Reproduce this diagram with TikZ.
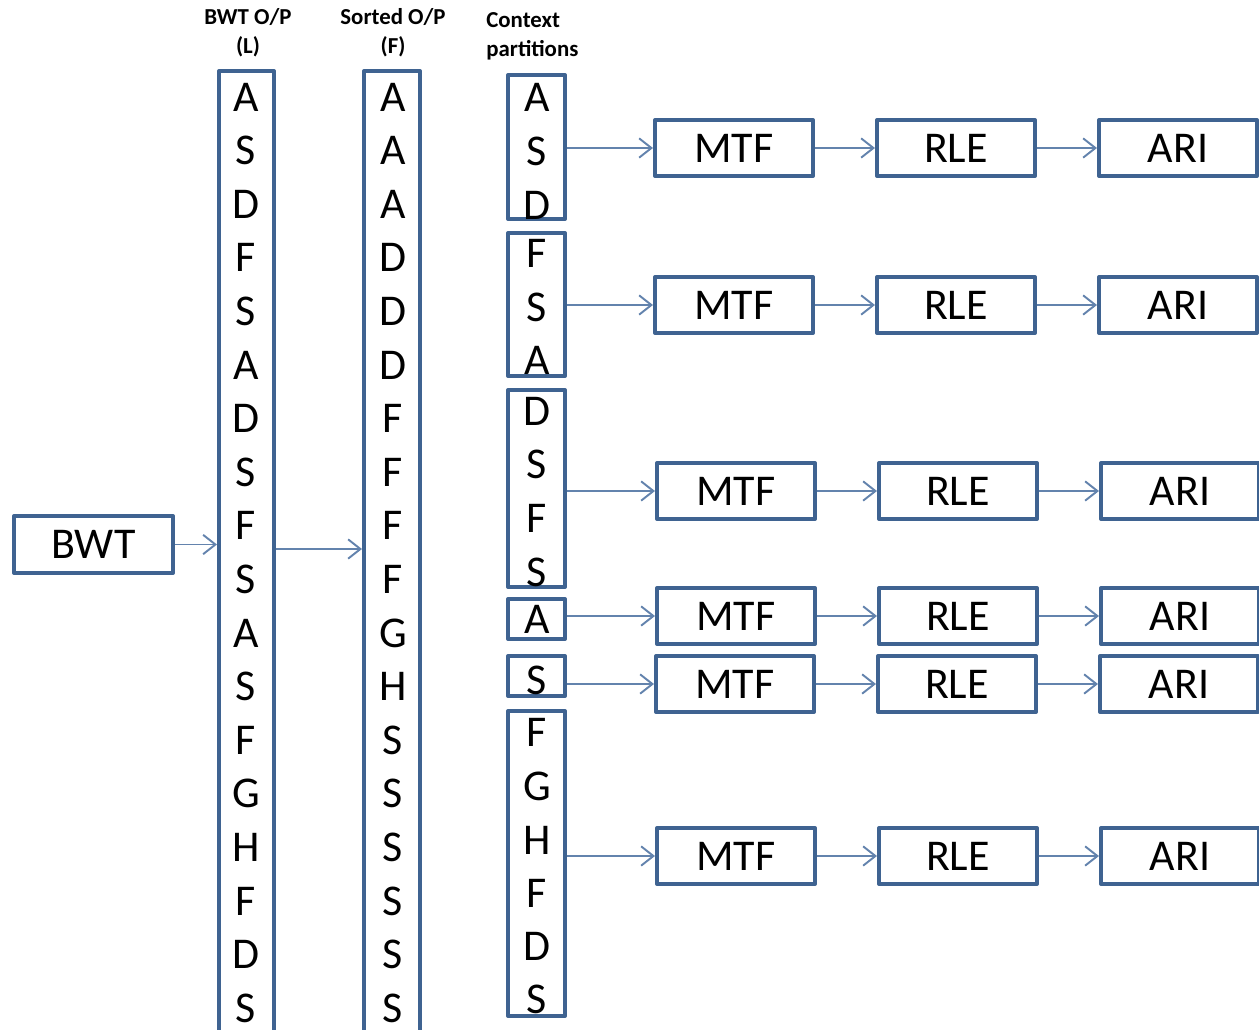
\documentclass[tikz,border=0pt]{standalone}
\usepackage{fontspec}
\setmainfont{Carlito}
\usepackage{xcolor}
\usetikzlibrary{arrows.meta, positioning}
\definecolor{boxblue}{HTML}{3F6391}
\definecolor{flowblue}{HTML}{6383AD}
\tikzset{
	blockbox/.style={draw=boxblue, line width=2.3pt, line join=round, fill=white,
		minimum width=3.16cm, minimum height=1.12cm, inner sep=0pt,
		font=\fontsize{25}{28}\selectfont},
	column/.style={draw=boxblue, line width=2.3pt, line join=round, inner sep=0pt},
	letter/.style={inner sep=0pt, font=\fontsize{25}{28}\selectfont},
	header/.style={inner sep=0pt, font=\fontsize{13}{16.4}\selectfont\bfseries},
	flow/.style={draw=flowblue, line width=1.1pt, -{Straight Barb[length=7pt, width=11pt]}}
}

\begin{document}
\begin{tikzpicture}[x=0.02cm, y=-0.02cm]
	\useasboundingbox (0,0) rectangle (1259,1029);
	\clip (0,0) rectangle (1259,1029);
	% Headers:
	\node[header, align=center] (hL) at (248, 32.5) {BWT O/P\\(L)};
	\node[header, align=center] (hF) at (393, 32.5) {Sorted O/P\\(F)};
	\node[header, align=left, anchor=west] (hP) at (486, 36.5) {Context\\partitions};
	% BWT block and the two columns:
	\node[blockbox, minimum width=3.18cm, minimum height=1.14cm] (BWT) at (93.5, 544.5) {BWT};
	\node[column, minimum width=1.1cm, minimum height=19.34cm] (L) at (246.5, 554.5) {};
	\node[column, minimum width=1.12cm, minimum height=19.34cm] (F) at (392, 554.5) {};
	\foreach \ch [count=\i from 0] in {A,S,D,F,S,A,D,S,F,S,A,S,F,G,H,F,D,S}
		\node[letter] (L\i) at (246, 97+53.6*\i) {\ch};
	\foreach \ch [count=\i from 0] in {A,A,A,D,D,D,F,F,F,F,G,H,S,S,S,S,S,S}
		\node[letter] (F\i) at (393, 97+53.6*\i) {\ch};
	\draw[flow] (BWT.east) -- (L.west |- BWT.east);
	\draw[flow] (L.east |- 0,549) -- (F.west |- 0,549);
	% Context partitions:
	\node[column, minimum width=1.14cm, minimum height=2.88cm] (P1) at (536.5, 147) {};
	\node[column, minimum width=1.14cm, minimum height=2.86cm] (P2) at (536.5, 304.5) {};
	\node[column, minimum width=1.14cm, minimum height=3.94cm] (P3) at (536.5, 488.5) {};
	\node[column, minimum width=1.14cm, minimum height=0.8cm] (P4) at (536.5, 619) {};
	\node[column, minimum width=1.14cm, minimum height=0.8cm] (P5) at (536.5, 676) {};
	\node[column, minimum width=1.14cm, minimum height=6.1cm] (P6) at (536.5, 863.5) {};
	\foreach \ch/\yy [count=\i] in {A/97, S/151, D/205, F/253, S/307, A/360, D/411, S/464, F/518, S/572,
		A/619, S/680, F/732, G/786, H/840, F/893, D/946, S/999}
		\node[letter] (C\i) at (537, \yy) {\ch};
	% Coding chains:
	\foreach \i/\xx/\yy in {1/734/148, 2/734/305, 3/736/491, 4/736/616, 5/735/684, 6/736/856} {
		\node[blockbox] (M\i) at (\xx, \yy) {MTF};
		\node[blockbox, right=1.2cm of M\i] (R\i) {RLE};
		\node[blockbox, right=1.2cm of R\i] (A\i) {ARI};
		\draw[flow] (P\i.east |- M\i.west) -- (M\i.west);
		\draw[flow] (M\i.east) -- (R\i.west);
		\draw[flow] (R\i.east) -- (A\i.west);
	}
\end{tikzpicture}
\end{document}
